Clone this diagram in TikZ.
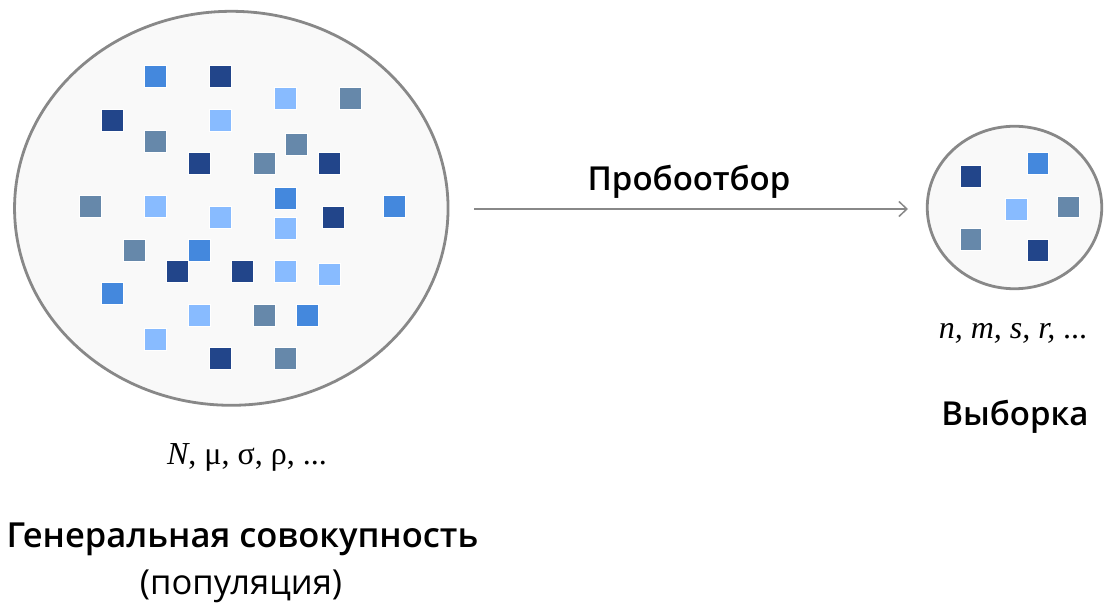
\documentclass[tikz,border=0pt]{standalone}
\usepackage{fontspec}
\setmainfont{Open Sans}
\IfFontExistsTF{Open Sans SemiBold}{\newfontfamily\semib{Open Sans SemiBold}}{%
 \IfFontExistsTF{Open Sans Semibold}{\newfontfamily\semib{Open Sans Semibold}}{\newfontfamily\semib{Open Sans}[UprightFont=*~Bold]}}
\newfontfamily\serifp{Liberation Serif}
\usetikzlibrary{shapes.geometric,arrows.meta}
\definecolor{cdark}{HTML}{22458A}
\definecolor{cmed}{HTML}{4488DD}
\definecolor{clight}{HTML}{88BBFF}
\definecolor{cgrey}{HTML}{6688AA}
\definecolor{cfill}{HTML}{F9F9F9}
\definecolor{cline}{HTML}{888888}
\tikzset{
  blob/.style={ellipse, draw=cline, fill=cfill, line width=2.8pt, inner sep=0pt, outer sep=0pt},
  sq/.style={rectangle, minimum size=21.7pt, inner sep=0pt, outer sep=0pt, draw=white, line width=0.4pt},
  head/.style={font=\semib\fontsize{33}{40}\selectfont, anchor=base, inner sep=0pt},
  bighead/.style={font=\semib\fontsize{34.5}{41}\selectfont, anchor=base, inner sep=0pt},
  sub/.style={font=\fontsize{34.5}{41}\selectfont, anchor=base, inner sep=0pt},
  param/.style={font=\serifp\fontsize{32}{38}\selectfont, anchor=base, inner sep=0pt},
  conn/.style={draw=cline, line width=1.5pt, -{Straight Barb[length=8pt,width=15pt]}}
}
\begin{document}
\begin{tikzpicture}[x=1pt,y=-1pt]
\useasboundingbox (0,0) rectangle (1106,604);
\node[blob, minimum width=433.5pt, minimum height=394pt] (pop) at (231.3,208.3) {};
\node[blob, minimum width=174.5pt, minimum height=162.5pt] (samp) at (1014.5,207.5) {};
\foreach \x/\y/\c [count=\i] in {
 155/76.5/cmed, 220/76.5/cdark, 285/98/clight, 350/98/cgrey,
 112/120/cdark, 220/120/clight, 155/141/cgrey, 296/144/cgrey,
 199/163/cdark, 264/163/cgrey, 329/163/cdark,
 90/206/cgrey, 155/206/clight, 220/217/clight, 285/198/cmed, 333/217/cdark, 394/206/cmed, 285/228/clight,
 134/250/cgrey, 199/250/cmed, 177/271/cdark, 242/271/cdark, 285/271/clight, 329/274/clight,
 112/293/cmed, 199/315/clight, 264/315/cgrey, 307/315/cmed,
 155/339/clight, 220/358/cdark, 285/358/cgrey}
 \node[sq, fill=\c] (p\i) at (\x,\y) {};
\foreach \x/\y/\c [count=\i] in {
 970.7/176.3/cdark, 1037.7/163.3/cmed, 1016/209/clight, 1068/206.7/cgrey,
 970.7/239/cgrey, 1037.7/250/cdark}
 \node[sq, fill=\c] (s\i) at (\x,\y) {};
\coordinate (a0) at (474,209);
\coordinate (a1) at (908,209);
\draw[conn] (a0) -- (a1);
\node[head] (lbl) at (689,191) {Пробоотбор};
\node[param] (ppop) at (247,464) {\itshape N\upshape, μ, σ, ρ, ...};
\node[param] (psamp) at (1013,338) {\itshape n, m, s, r, \upshape...};
\node[head] (tsamp) at (1015,425) {Выборка};
\node[bighead] (tpop) at (242.5,547) {Генеральная совокупность};
\node[sub] (tpop2) at (241,594) {(популяция)};
\end{tikzpicture}
\end{document}
